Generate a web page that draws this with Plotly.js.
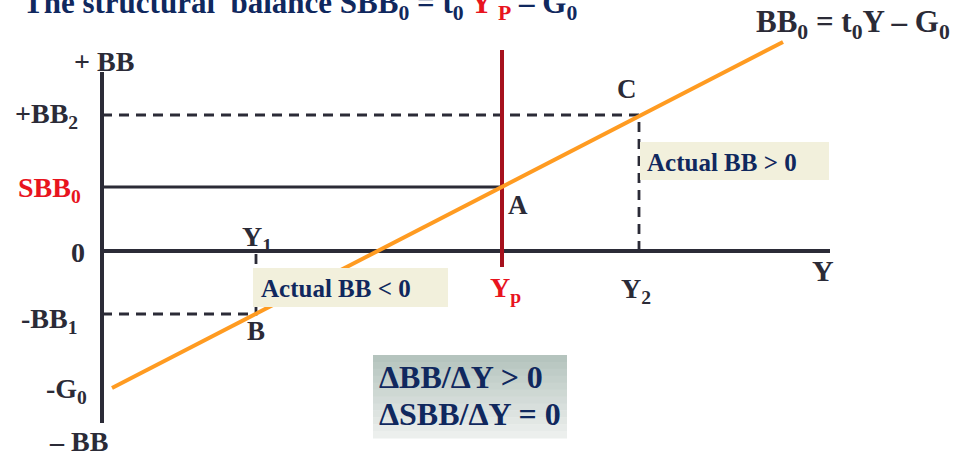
<!DOCTYPE html>
<html>
<head>
<meta charset="utf-8">
<script src="https://cdn.plot.ly/plotly-3.0.1.min.js"></script>
<style>html,body{margin:0;padding:0;background:#fff;}#chart{width:955px;height:454px;}</style>
</head>
<body>
<div id="chart"></div>
<script>
// ---- data (conceptual units: Y along horizontal axis, BB along vertical axis) ----
const incomeNames  = ['Y1', 'Yp', 'Y2'];
const incomeValues = [1.54, 4.00, 5.37];
const balanceNames  = ['+BB2', 'SBB0', '0', '-BB1', '-G0'];
const balanceValues = [1.36, 0.64, 0, -0.63, -1.37];
const bbLineY  = [0.10, 6.81];     // actual budget balance line BB0 = t0Y - G0
const bbLineBB = [-1.37, 2.09];
const potentialLineBB = [-0.16, 2.01];   // vertical Yp line extent
const axisBBExtent = [-1.72, 1.79];
const axisYExtent  = [0, 7.28];
const pointNames = ['A', 'B', 'C'];

const Y1 = incomeValues[0], Yp = incomeValues[1], Y2 = incomeValues[2];
const BB2 = balanceValues[0], SBB0 = balanceValues[1], BB1 = balanceValues[3], G0 = balanceValues[4];

const DARK = '#2b2b37', NAVY = '#10285e', RED = '#e8141e';
const FONT = 'Liberation Serif, Times New Roman, serif';

// pixel helpers for label placement (plot area = whole page)
const XR = [-1.02, 8.53], YR = [-2.03, 2.51];
const W = 955, H = 454;
const px = p => XR[0] + (XR[1]-XR[0]) * p / W;
const py = p => YR[1] - (YR[1]-YR[0]) * p / H;

const traces = [
  {x: [0, 0], y: axisBBExtent, mode: 'lines', line: {color: DARK, width: 4}},
  {x: axisYExtent, y: [0, 0], mode: 'lines', line: {color: DARK, width: 4}},
  {x: [0, Y2, Y2], y: [BB2, BB2, 0], mode: 'lines', line: {color: DARK, width: 2.8, dash: '10px,7px'}},
  {x: [0, Y1, Y1], y: [BB1, BB1, 0], mode: 'lines', line: {color: DARK, width: 2.8, dash: '10px,7px'}},
  {x: [0, Yp], y: [SBB0, SBB0], mode: 'lines', line: {color: DARK, width: 3}},
  {x: [Yp, Yp], y: potentialLineBB, mode: 'lines', line: {color: '#a6111d', width: 4}},
  {x: bbLineY, y: bbLineBB, mode: 'lines', line: {color: '#ff9b21', width: 4}}
];

function lab(text, xp, yp, opts) {
  return Object.assign({
    text: text, x: px(xp), y: py(yp), xref: 'x', yref: 'y', showarrow: false,
    xanchor: 'center', yanchor: 'middle',
    font: {family: FONT, size: 28, color: DARK}
  }, opts || {});
}
const b = s => '<b>' + s + '</b>';

const annotations = [
  lab(b('+ BB'), 104, 61),
  lab(b('+BB<sub>2</sub>'), 46, 115),
  lab(b('SBB<sub>0</sub>'), 49, 189, {font: {family: FONT, size: 28, color: RED}}),
  lab(b(balanceNames[2]), 78, 252),
  lab(b('-BB<sub>1</sub>'), 49, 320),
  lab(b('-G<sub>0</sub>'), 66, 390),
  lab(b('– BB'), 78, 441),
  lab(b('Y<sub>1</sub>'), 257, 238),
  lab(b('Y<sub>p</sub>'), 505, 289, {font: {family: FONT, size: 28, color: RED}}),
  lab(b('Y<sub>2</sub>'), 636, 290),
  lab(b('Y'), 823, 270, {font: {family: FONT, size: 30, color: DARK}}),
  lab(b(pointNames[0]), 518, 205, {font: {family: FONT, size: 27, color: DARK}}),
  lab(b(pointNames[1]), 256, 331, {font: {family: FONT, size: 27, color: DARK}}),
  lab(b(pointNames[2]), 627, 89, {font: {family: FONT, size: 27, color: DARK}}),
  lab(b('BB<sub>0</sub> = t<sub>0</sub>Y – G<sub>0</sub>'), 853, 24, {font: {family: FONT, size: 31, color: DARK}}),
  lab(b('Actual BB &lt; 0'), 259, 288, {xanchor: 'left', font: {family: FONT, size: 25, color: NAVY}}),
  lab(b('Actual BB &gt; 0'), 645, 162, {xanchor: 'left', font: {family: FONT, size: 25, color: NAVY}}),
  lab(b('ΔBB/ΔY &gt; 0'), 377, 377, {xanchor: 'left', font: {family: FONT, size: 32, color: NAVY}}),
  lab(b('ΔSBB/ΔY = 0'), 377, 414, {xanchor: 'left', font: {family: FONT, size: 32, color: NAVY}})
];

function rectPx(x0, y0, x1, y1, color) {
  return {type: 'rect', xref: 'x', yref: 'y', x0: px(x0), x1: px(x1), y0: py(y0), y1: py(y1),
          fillcolor: color, line: {width: 0}, layer: 'above'};
}
const shapes = [
  rectPx(253, 268, 448, 307, '#f2f0dc'),
  rectPx(640, 142, 829, 180, '#f2f0dc')
];
// gradient box behind the delta text
const gTop = [181, 196, 190], gBot = [236, 239, 237], steps = 12;
for (let i = 0; i < steps; i++) {
  const t = i / (steps - 1);
  const c = gTop.map((v, k) => Math.round(v + (gBot[k] - v) * t));
  const y0 = 355 + (438 - 355) * i / steps, y1 = 355 + (438 - 355) * (i + 1) / steps + 0.5;
  shapes.push(rectPx(373, y0, 567, y1, 'rgb(' + c.join(',') + ')'));
}

const layout = {
  width: W, height: H,
  margin: {l: 0, r: 0, t: 0, b: 0, pad: 0},
  paper_bgcolor: '#ffffff', plot_bgcolor: '#ffffff',
  showlegend: false,
  title: {
    text: b('The structural  balance SBB<sub>0</sub> = t<sub>0</sub> <span style="color:' + RED + '">Y<sub> P</sub></span> – G<sub>0</sub>'),
    font: {family: FONT, size: 31, color: NAVY},
    x: 23 / W, xanchor: 'left', xref: 'container',
    y: 1 - 13 / H, yanchor: 'bottom', yref: 'container'
  },
  xaxis: {range: XR, visible: false, fixedrange: true},
  yaxis: {range: YR, visible: false, fixedrange: true},
  annotations: annotations,
  shapes: shapes
};

Plotly.newPlot('chart', traces, layout, {displayModeBar: false, staticPlot: true});
</script>
</body>
</html>
